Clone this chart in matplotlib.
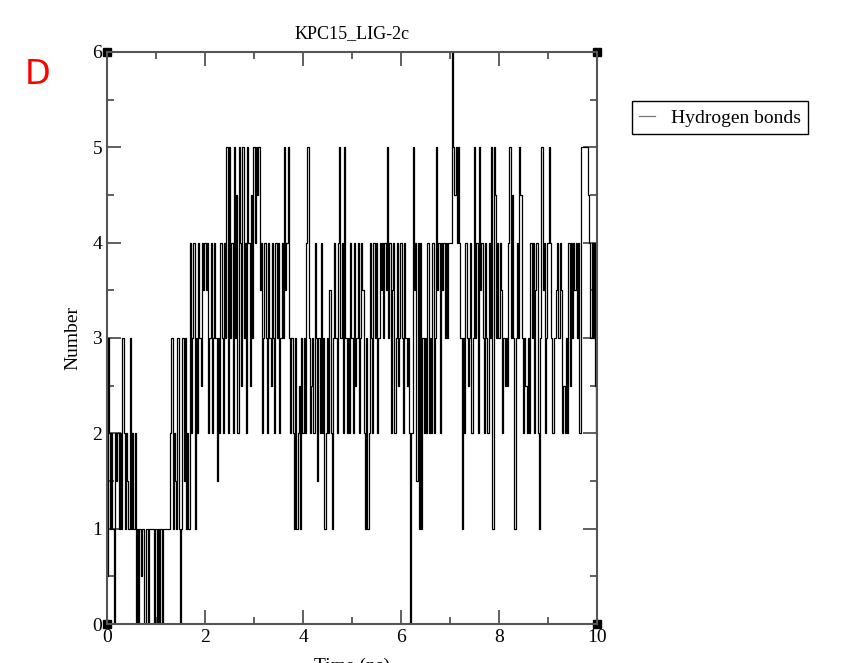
import numpy as np
import matplotlib
matplotlib.use("Agg")
import matplotlib.pyplot as plt

# hydrogen bond count per frame (frames every 0.025 ns)
hbonds = [
    0.5, 3, 2, 1, 2, 1, 0, 2, 1.5, 2, 1, 2, 1, 3, 2, 1, 2, 1.5, 1, 3,
    1, 2, 1, 2, 0, 1, 0, 1, 0.5, 1, 1, 0, 1, 1, 0, 1, 1, 1, 1, 0,
    1, 0, 1, 0, 1, 0, 1, 1, 1, 1, 1, 1, 2, 3, 1, 2, 1.5, 1, 3, 1,
    0, 1, 3, 1.5, 3, 1, 2, 1, 4, 2, 3, 4, 1, 3, 2, 4, 3, 2.5, 4, 3.5,
    4, 3.5, 4, 2, 3, 4, 2, 3, 4, 3, 1.5, 3, 2, 4, 3, 2, 4, 3, 5, 2,
    5, 3, 4, 2, 5, 3, 4.5, 2, 5, 4, 2.5, 5, 3, 4, 2, 5, 4, 2.5, 4.5, 3,
    5, 4, 5, 4.5, 5, 3.5, 4, 2, 3, 4, 3, 2, 4, 3, 2.5, 4, 3, 2, 4, 3,
    4, 2, 3, 4, 3, 5, 3.5, 4, 5, 3, 2, 3, 2, 1, 3, 1, 2, 2.5, 1, 3,
    2, 3, 2, 4, 5, 3, 2, 2.5, 3, 2, 4, 3, 1.5, 3, 2, 4, 2, 3, 1, 2,
    3, 2, 3.5, 2, 1, 3, 4, 3, 2, 4, 5, 3, 4, 2, 5, 3, 2, 3, 2, 4,
    3, 2, 4, 2.5, 3, 4, 2, 3, 4, 3.5, 2, 1, 3, 1, 2, 4, 3, 2, 4, 3,
    4, 2, 3, 4, 3.5, 4, 3, 4, 3.5, 5, 3, 4, 2, 3.5, 4, 2, 3, 4, 2.5, 3,
    4, 3, 2, 4, 3, 2.5, 3, 2, 0, 2, 5, 3.5, 4, 1.5, 4, 1, 4, 1, 3, 2,
    3, 2, 4, 2, 3, 2, 4, 2, 3, 5, 3.5, 4, 2, 4, 3.5, 4, 3, 4, 3, 4,
    4, 4, 6, 5, 4.5, 5, 4, 5, 4, 3, 1, 3, 2, 4, 3, 2.5, 3, 4, 2, 3,
    5, 3, 4, 2, 5, 3.5, 4, 3, 2, 4, 3, 2, 4, 3, 5, 1, 5, 4.5, 3, 4,
    3, 4, 3.5, 2, 3, 2.5, 3, 2.5, 4, 5, 3, 4.5, 3, 1, 3, 4, 3, 5, 4.5, 3,
    2, 3, 2.5, 2, 3, 2, 4, 3, 4, 2, 3.5, 4, 2, 1, 3, 5, 3.5, 4, 2, 3,
    4, 5, 4, 3, 2, 3, 3, 3.5, 4, 3, 4, 3.5, 2, 2.5, 2, 3, 2, 4, 2.5, 4,
    3, 4, 3.5, 4, 3, 4, 2, 5, 5, 5, 5, 5, 5, 4.5, 4, 3, 4, 3, 4, 2.5, 2,
]
time = np.linspace(0, 10, len(hbonds))

x_ticks = [0, 2, 4, 6, 8, 10]
y_ticks = [0, 1, 2, 3, 4, 5, 6]

plt.rcParams['font.family'] = 'Liberation Serif'

fig = plt.figure(figsize=(8.45, 6.63), dpi=100)
ax = fig.add_axes([0.1266, 0.0588, 0.58, 0.8628])

ax.plot(time, hbonds, color="black", lw=0.9, drawstyle="steps-mid",
        label="Hydrogen bonds")

ax.set_xlim(0, 10)
ax.set_ylim(0, 6)
ax.set_xticks(x_ticks)
ax.set_yticks(y_ticks)
ax.set_xticks(np.arange(0, 11, 1), minor=True)
ax.set_yticks(np.arange(0, 6.5, 0.5), minor=True)
ax.tick_params(which="both", direction="in", top=True, right=True,
               labelsize=14, color="#444444")
ax.tick_params(which="major", length=10, width=1.2)
ax.tick_params(which="minor", length=5, width=1.2)
for s in ax.spines.values():
    s.set_linewidth(1.5)
    s.set_color("#555555")

# corner squares like in the xmgrace output
ax.plot([0, 0, 1, 1], [0, 1, 1, 0], "s", color="black", ms=6,
        transform=ax.transAxes, clip_on=False)

ax.set_title("KPC15_LIG-2c", fontsize=13, pad=10)
ax.set_ylabel("Number", fontsize=14, labelpad=8)
fig.text(0.4165, 0.008, "Time (ns)", fontsize=14, ha="center", va="top")

leg = fig.legend(loc="upper left", bbox_to_anchor=(0.736, 0.862),
                 fontsize=14, handlelength=0.8, fancybox=False,
                 edgecolor="black", framealpha=1, borderpad=0.4)
leg.get_frame().set_linewidth(1.0)
leg.get_lines()[0].set_color("#777777")

fig.text(0.045, 0.888, "D", color="red", fontsize=24,
         family="DejaVu Sans", ha="center", va="center")

fig.savefig("out.png", dpi=100)
